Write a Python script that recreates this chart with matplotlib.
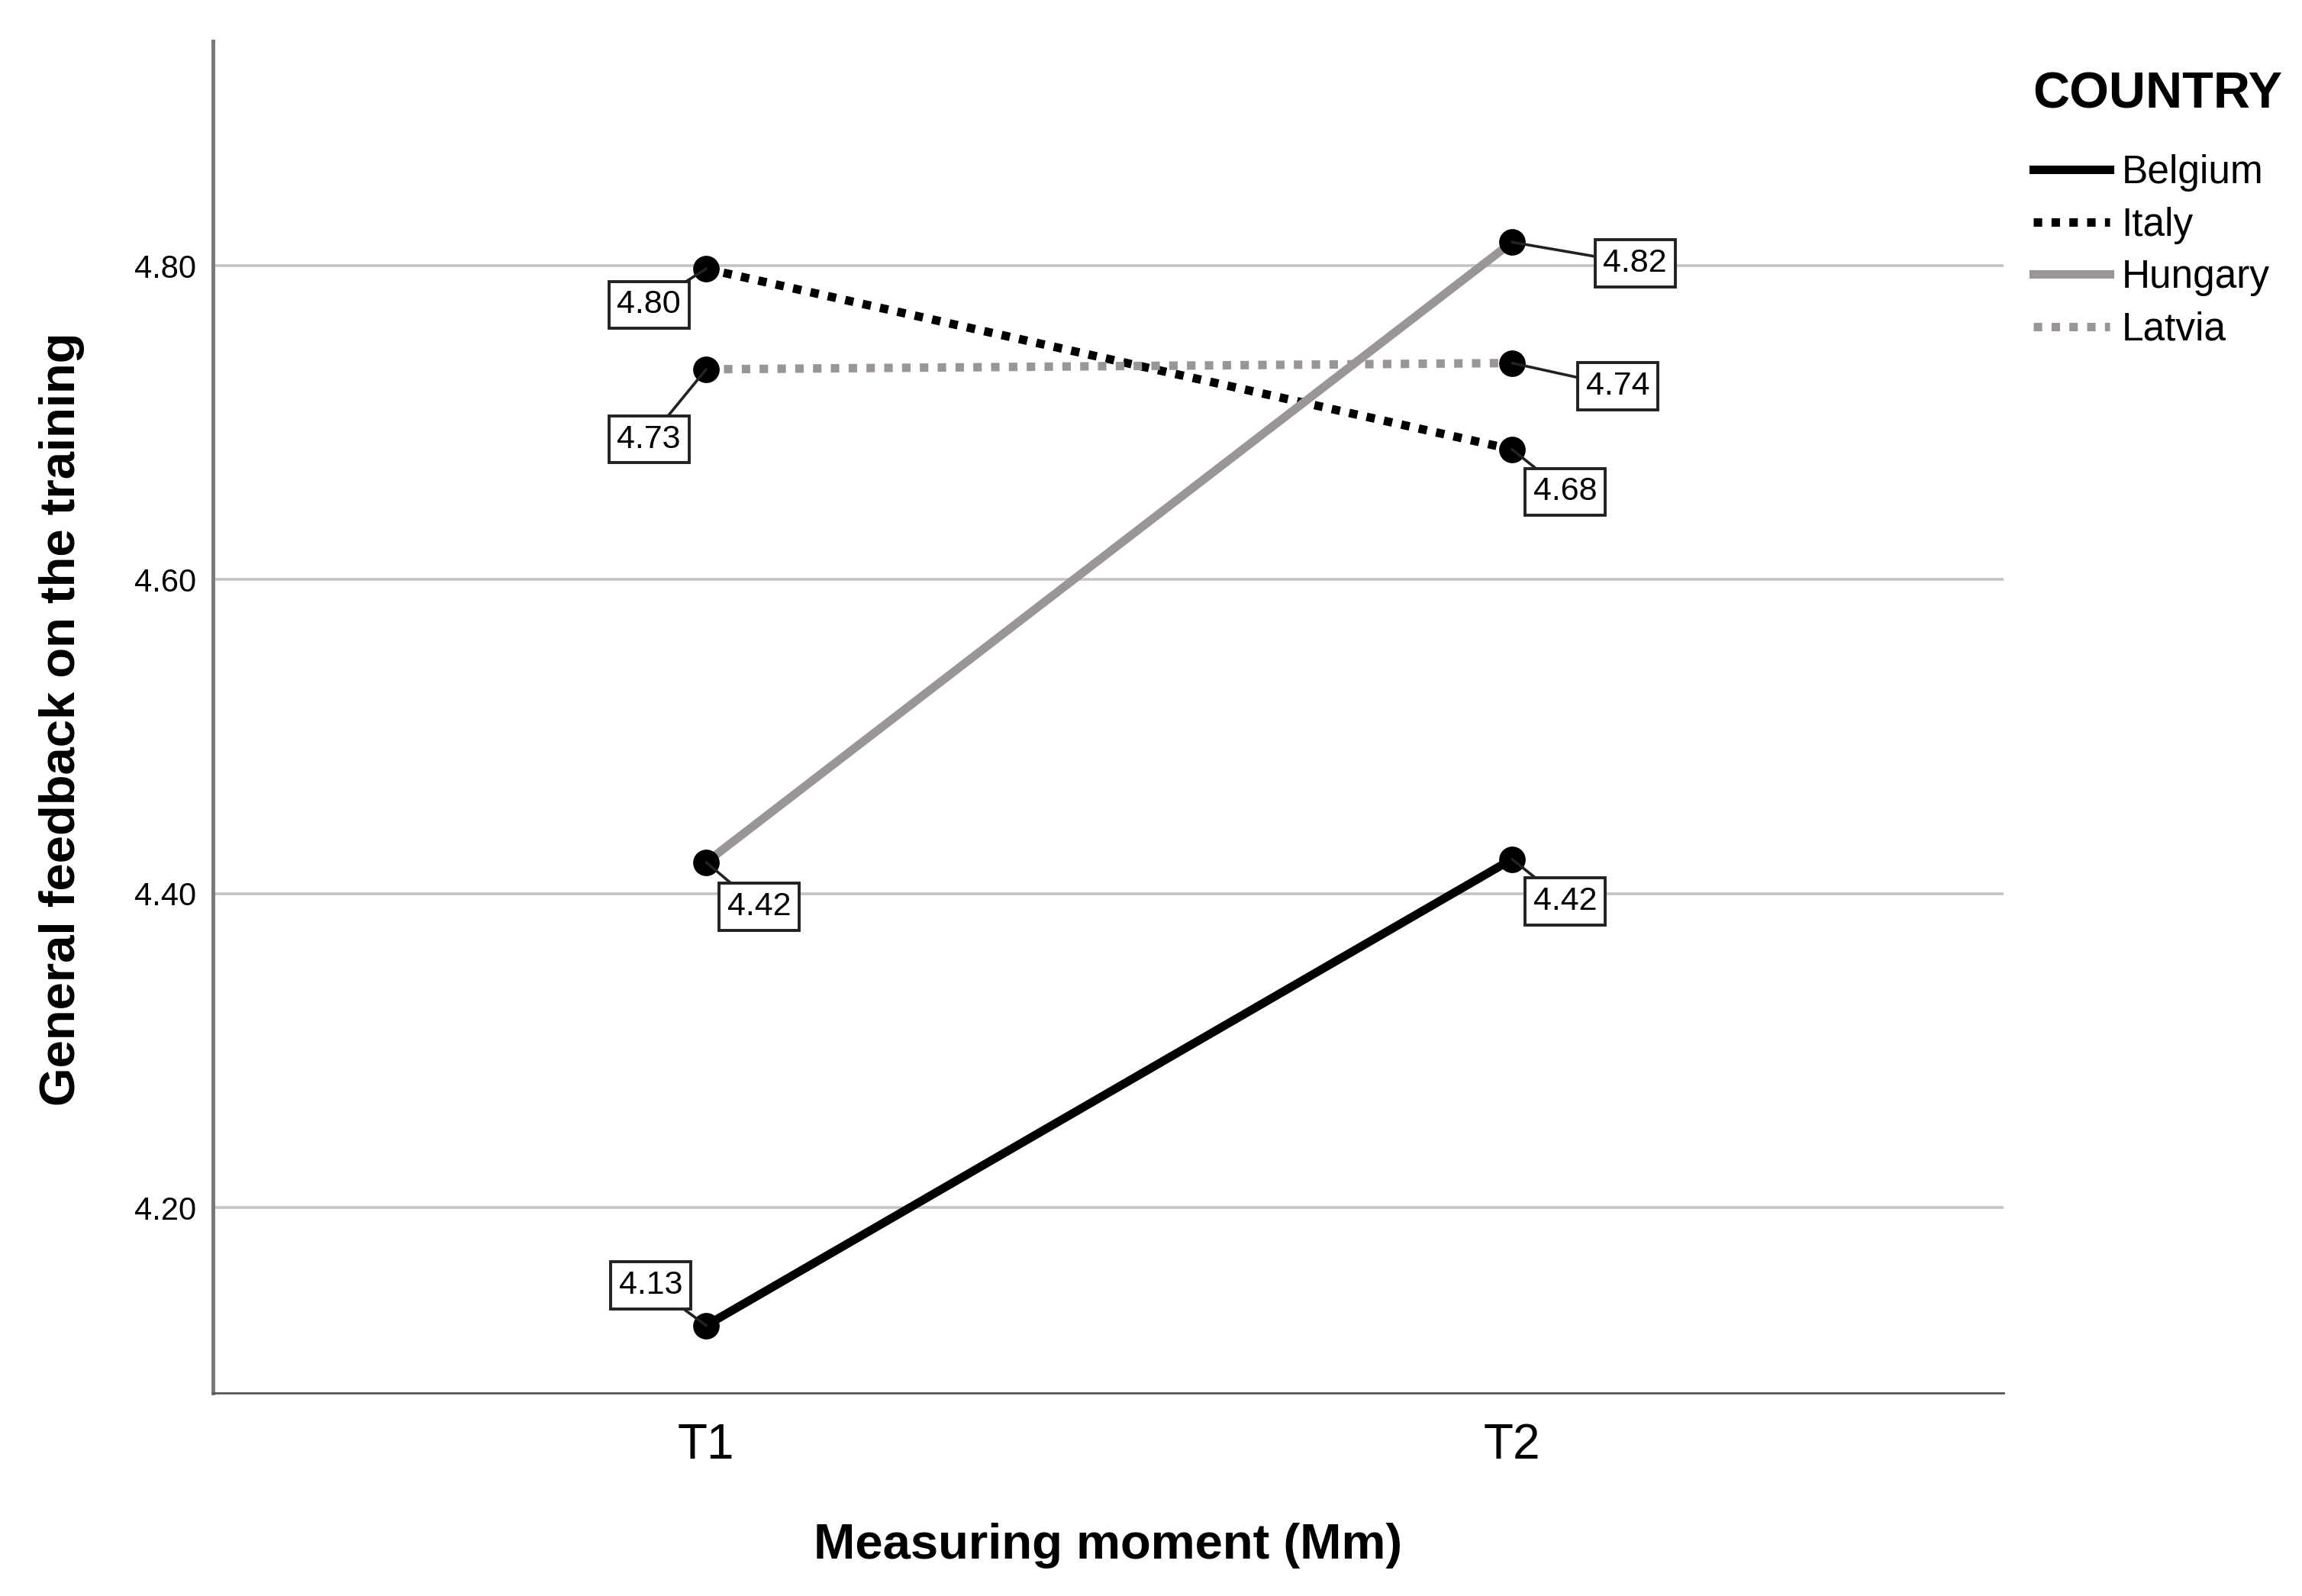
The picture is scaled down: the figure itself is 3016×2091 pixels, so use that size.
import matplotlib
matplotlib.use("Agg")
import matplotlib.pyplot as plt
from matplotlib.lines import Line2D

plt.rcParams['font.family'] = ['Liberation Sans', 'DejaVu Sans']

moments = ["T1", "T2"]
countries = ["Belgium", "Italy", "Hungary", "Latvia"]
belgium = [4.125, 4.422]
italy = [4.798, 4.683]
hungary = [4.420, 4.815]
latvia = [4.734, 4.738]
label_text = {
    "Belgium": ["4.13", "4.42"],
    "Italy": ["4.80", "4.68"],
    "Hungary": ["4.42", "4.82"],
    "Latvia": ["4.73", "4.74"],
}
yticks = [4.20, 4.40, 4.60, 4.80]

series = {"Belgium": belgium, "Italy": italy, "Hungary": hungary, "Latvia": latvia}
styles = {
    "Belgium": dict(color="black", ls="-"),
    "Italy": dict(color="black", ls=(0, (1.0, 1.1))),
    "Hungary": dict(color="#9a9696", ls="-"),
    "Latvia": dict(color="#9a9696", ls=(0, (1.0, 1.1))),
}
# label offsets in points (dx, dy)
offsets = {
    "Belgium": [(-26, 19), (25, -20)],
    "Italy": [(-27, -17), (25, -20)],
    "Hungary": [(25, -21), (58, -10)],
    "Latvia": [(-27, -33), (50, -11)],
}

fig = plt.figure(figsize=(15.08, 10.455), dpi=200)
ax = fig.add_axes([0.0925, 0.1272, 0.7779, 0.847])

x = list(range(len(moments)))
for c in countries:
    st = styles[c]
    ax.plot(x, series[c], color=st["color"], linestyle=st["ls"], lw=4.0,
            dash_capstyle="butt", zorder=3, solid_capstyle="butt")
    ax.plot(x, series[c], linestyle="none", marker="o", ms=11.5,
            color="black", zorder=4)
    for i in x:
        ax.annotate(label_text[c][i], xy=(i, series[c][i]),
                    xytext=offsets[c][i], textcoords="offset points",
                    ha="center", va="center", fontsize=15.5,
                    bbox=dict(boxstyle="square,pad=0.25", fc="white",
                              ec="#222222", lw=1.4),
                    arrowprops=dict(arrowstyle="-", color="#222222", lw=1.3,
                                    shrinkA=0, shrinkB=0),
                    zorder=5)

ax.set_xlim(-0.612, 1.61)
ax.set_ylim(4.082, 4.943)
ax.set_xticks(x)
ax.set_xticklabels(moments, fontsize=23)
ax.set_yticks(yticks)
ax.set_yticklabels([f"{v:.2f}" for v in yticks], fontsize=15)
ax.tick_params(axis="both", length=0)
ax.tick_params(axis="y", pad=8)
ax.tick_params(axis="x", pad=14)
ax.yaxis.grid(True, color="#c4c4c4", lw=1.3)
ax.set_axisbelow(True)
for s in ["top", "right"]:
    ax.spines[s].set_visible(False)
ax.spines["left"].set_color("#7a7a7a")
ax.spines["left"].set_linewidth(1.8)
ax.spines["bottom"].set_color("#555555")
ax.spines["bottom"].set_linewidth(1.0)

fig.text(0.5 * (279 + 2625) / 3016, 1 - 2025 / 2091, "Measuring moment (Mm)",
         ha="center", va="center", fontsize=23.5, fontweight="bold")
fig.text(81 / 3016, 1 - (225 + 755) / 2 * 1.923 / 2091, "General feedback on the training",
         ha="center", va="center", rotation=90, fontsize=23.5, fontweight="bold")

fig.text(2663 / 3016, 1 - 125 / 2091, "COUNTRY", ha="left", va="center",
         fontsize=24, fontweight="bold")
handles = [Line2D([0], [0], color=styles[c]["color"], linestyle=styles[c]["ls"],
                  lw=4.0, dash_capstyle="butt") for c in countries]
leg = fig.legend(handles, countries, loc="upper left",
                 bbox_to_anchor=(2664 / 3016, 1 - 202 / 2091),
                 frameon=False, fontsize=18.5,
                 handlelength=1.95, handletextpad=0.3,
                 labelspacing=0.38, borderpad=0, borderaxespad=0)

fig.savefig("out.png", dpi=200, facecolor="white")
